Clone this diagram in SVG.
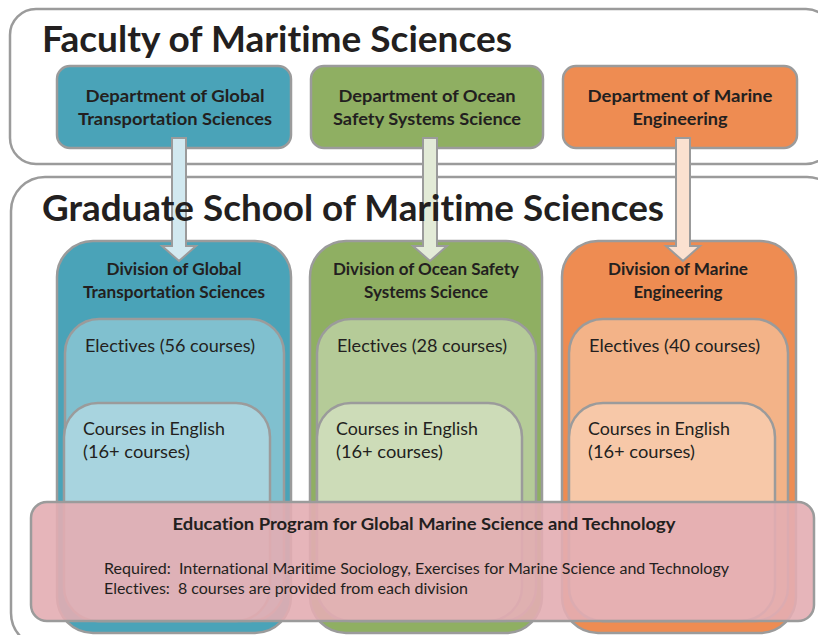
<svg xmlns="http://www.w3.org/2000/svg" width="818" height="635" viewBox="0 0 818 635">
<defs>
<style>
.frame{fill:#ffffff;stroke:#9b9b9b;stroke-width:2.5}
.box{stroke:#9b9b9b;stroke-width:2.5}
.t{font-family:Lato,"Open Sans","Liberation Sans",sans-serif;fill:#231f20;font-variant-ligatures:none}
.title{font-size:36px;font-weight:bold}
.dept{font-size:17px;font-weight:bold;text-anchor:middle}
.body{font-size:18px}
.small{font-size:15.5px;white-space:pre}
.blue1{fill:#4aa3b8}.blue2{fill:#80c0cf}.blue3{fill:#a8d4df}
.green1{fill:#8faf62}.green2{fill:#b5cb98}.green3{fill:#cddcb8}
.orange1{fill:#ee8c52}.orange2{fill:#f3b388}.orange3{fill:#f7c8a8}
.arrow{stroke:#9b9b9b;stroke-width:2}
</style>
</defs>
<rect width="818" height="635" fill="#ffffff"/>

<g id="faculty">
<rect class="frame" x="10" y="9" width="822" height="155" rx="26"/>
<text class="t title" x="42" y="52" textLength="470" lengthAdjust="spacingAndGlyphs">Faculty of Maritime Sciences</text>
</g>

<g id="graduate-school">
<rect class="frame" x="11" y="177" width="830" height="470" rx="34"/>
</g>

<g id="dept-global">
<rect class="box blue1" x="57" y="66" width="234" height="82" rx="13"/>
<text class="t dept" x="175" y="102" textLength="179" lengthAdjust="spacingAndGlyphs">Department of Global</text>
<text class="t dept" x="175" y="125" textLength="194" lengthAdjust="spacingAndGlyphs">Transportation Sciences</text>
</g>
<g id="dept-ocean">
<rect class="box green1" x="311" y="66" width="232" height="82" rx="13"/>
<text class="t dept" x="427" y="102" textLength="177" lengthAdjust="spacingAndGlyphs">Department of Ocean</text>
<text class="t dept" x="427" y="125" textLength="188" lengthAdjust="spacingAndGlyphs">Safety Systems Science</text>
</g>
<g id="dept-marine">
<rect class="box orange1" x="563" y="66" width="234" height="82" rx="13"/>
<text class="t dept" x="680" y="102" textLength="185" lengthAdjust="spacingAndGlyphs">Department of Marine</text>
<text class="t dept" x="680" y="125" textLength="95" lengthAdjust="spacingAndGlyphs">Engineering</text>
</g>

<g id="div-global">
<rect class="box blue1" x="57" y="241" width="234" height="392" rx="36"/>
<text class="t dept" x="174" y="275" textLength="135" lengthAdjust="spacingAndGlyphs">Division of Global</text>
<text class="t dept" x="174" y="298" textLength="182" lengthAdjust="spacingAndGlyphs">Transportation Sciences</text>
<rect class="box blue2" x="65" y="319" width="219" height="302" rx="34"/>
<text class="t body" x="85" y="352" textLength="170" lengthAdjust="spacingAndGlyphs">Electives (56 courses)</text>
<rect class="box blue3" x="64" y="403" width="206" height="218" rx="34"/>
<text class="t body" x="83" y="435" textLength="142" lengthAdjust="spacingAndGlyphs">Courses in English</text>
<text class="t body" x="83" y="458" textLength="107" lengthAdjust="spacingAndGlyphs">(16+ courses)</text>
</g>

<g id="div-ocean">
<rect class="box green1" x="310" y="241" width="232" height="392" rx="36"/>
<text class="t dept" x="426" y="275" textLength="186" lengthAdjust="spacingAndGlyphs">Division of Ocean Safety</text>
<text class="t dept" x="426" y="298" textLength="124" lengthAdjust="spacingAndGlyphs">Systems Science</text>
<rect class="box green2" x="317" y="319" width="219" height="302" rx="34"/>
<text class="t body" x="337" y="352" textLength="170" lengthAdjust="spacingAndGlyphs">Electives (28 courses)</text>
<rect class="box green3" x="317" y="403" width="205" height="218" rx="34"/>
<text class="t body" x="336" y="435" textLength="142" lengthAdjust="spacingAndGlyphs">Courses in English</text>
<text class="t body" x="336" y="458" textLength="107" lengthAdjust="spacingAndGlyphs">(16+ courses)</text>
</g>

<g id="div-marine">
<rect class="box orange1" x="562" y="241" width="234" height="392" rx="36"/>
<text class="t dept" x="678" y="275" textLength="140" lengthAdjust="spacingAndGlyphs">Division of Marine</text>
<text class="t dept" x="678" y="298" textLength="89" lengthAdjust="spacingAndGlyphs">Engineering</text>
<rect class="box orange2" x="569" y="319" width="219" height="302" rx="34"/>
<text class="t body" x="589" y="352" textLength="171" lengthAdjust="spacingAndGlyphs">Electives (40 courses)</text>
<rect class="box orange3" x="569" y="403" width="206" height="218" rx="34"/>
<text class="t body" x="588" y="435" textLength="142" lengthAdjust="spacingAndGlyphs">Courses in English</text>
<text class="t body" x="588" y="458" textLength="107" lengthAdjust="spacingAndGlyphs">(16+ courses)</text>
</g>

<g id="connectors">
<polygon class="arrow" fill="#d2e9f0" points="172,138 186,138 186,246 196,246 179,261 162,246 172,246"/>
<polygon class="arrow" fill="#e3ebd7" points="423,138 437,138 437,246 447,246 430,261 413,246 423,246"/>
<polygon class="arrow" fill="#fbe1d0" points="676,138 690,138 690,246 700,246 683,261 666,246 676,246"/>
</g>

<g id="graduate-title">
<text class="t title" x="42" y="221" textLength="622" lengthAdjust="spacingAndGlyphs">Graduate School of Maritime Sciences</text>
</g>

<g id="education-program">
<rect x="31" y="502" width="783" height="119" rx="16" fill="#e3adb2" fill-opacity="0.9" stroke="#9b9b9b" stroke-width="2.5"/>
<text class="t dept" x="424" y="530" font-size="16.5" textLength="503" lengthAdjust="spacingAndGlyphs">Education Program for Global Marine Science and Technology</text>
<text class="t small" x="104" y="574" xml:space="preserve" textLength="625" lengthAdjust="spacingAndGlyphs">Required:  International Maritime Sociology, Exercises for Marine Science and Technology</text>
<text class="t small" x="104" y="594" xml:space="preserve" textLength="364" lengthAdjust="spacingAndGlyphs">Electives:  8 courses are provided from each division</text>
</g>
</svg>
